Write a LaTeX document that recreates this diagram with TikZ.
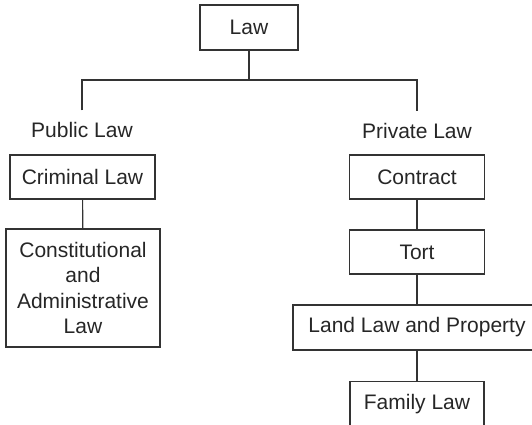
\documentclass[tikz,border=0pt]{standalone}
\usepackage{fontspec}
\setmainfont{Liberation Sans}
\tikzset{
  lawbox/.style={draw=black!80, line width=1.2pt, inner sep=0pt, align=center},
  branch/.style={inner sep=0pt, outer sep=0pt}
}
\begin{document}
\begin{tikzpicture}[x=1pt,y=-1pt,line width=1.2pt,font=\fontsize{21}{25.5}\selectfont,text=black!85]
\useasboundingbox (0,0) rectangle (532,425);
\clip (0,0) rectangle (532,425);
\node[lawbox,minimum width=98pt,minimum height=45pt] (law) at (249,27.5) {Law};
\coordinate (split) at (249,80);
\node[branch] (public) at (82,130) {Public Law};
\node[branch] (private) at (417,130.5) {Private Law};
\node[lawbox,minimum width=145pt,minimum height=44pt] (criminal) at (82.5,177) {Criminal Law};
\node[lawbox,minimum width=154pt,minimum height=118pt] (constitutional) at (83,288) {Constitutional\\and\\Administrative\\Law};
\node[lawbox,minimum width=135pt,minimum height=44pt] (contract) at (417,177) {Contract};
\node[lawbox,minimum width=135pt,minimum height=44pt] (tort) at (417,252) {Tort};
\node[lawbox,minimum width=248pt,minimum height=45pt] (land) at (417,327.5) {Land Law and Property};
\node[lawbox,minimum width=134pt,minimum height=44pt,anchor=north] (family) at (417,381) {Family Law};
\draw[black!80] (law) -- (split);
\draw[black!80] ([yshift=12pt]public.north) -- (public.north |- split) -- (private.north |- split) -- ([yshift=12pt]private.north);
\draw[black!80] (criminal) -- (constitutional);
\draw[black!80] (contract) -- (tort);
\draw[black!80] (tort) -- (land);
\draw[black!80] (land) -- (family);
\end{tikzpicture}
\end{document}
